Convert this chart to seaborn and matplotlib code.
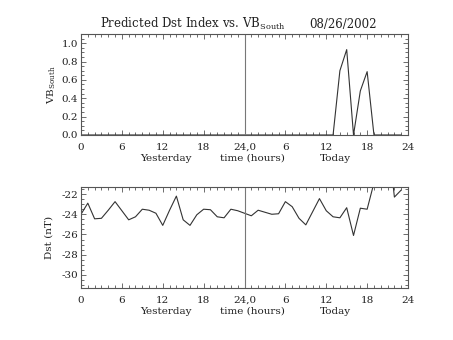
import numpy as np
import pandas as pd
import matplotlib
matplotlib.use("Agg")
import matplotlib.pyplot as plt
from matplotlib.ticker import MultipleLocator, FixedLocator, FuncFormatter
from matplotlib.transforms import blended_transform_factory
import seaborn as sns

# Hourly values over two days: hours 0-23 yesterday, 24-47 today
hours = list(range(48))

vb_south = [0.0] * 37 + [0.0, 0.70, 0.93, 0.0, 0.48, 0.69, 0.0, 0.0, 0.0, 0.0, 0.0]
vb_south = vb_south[:48]

dst = [-24.0, -22.9, -24.45, -24.4, -23.6, -22.75, -23.65, -24.55,
       -24.25, -23.5, -23.6, -23.9, -25.1, -23.6, -22.2, -24.55,
       -25.1, -24.05, -23.5, -23.55, -24.25, -24.35, -23.5, -23.65,
       -23.9, -24.15, -23.6, -23.8, -24.0, -23.95, -22.75, -23.25,
       -24.4, -25.05, -23.75, -22.45, -23.65, -24.25, -24.35, -23.35,
       -26.1, -23.4, -23.5, -20.9, -19.0, -16.0, -22.3, -21.6]

x_tick_pos = [0, 6, 12, 18, 24, 30, 36, 42, 48]
x_tick_labels = ["0", "6", "12", "18", "24,0", "6", "12", "18", "24"]
vb_ticks = [0.0, 0.2, 0.4, 0.6, 0.8, 1.0]
dst_ticks = [-30, -28, -26, -24, -22]

title_text = r"Predicted Dst Index vs. VB$_{\mathrm{South}}$"
date_text = "08/26/2002"

df = pd.DataFrame({"hour": hours, "vb": vb_south, "dst": dst})

sns.set_theme(style="white")
plt.rcParams["font.family"] = ["DejaVu Serif"]
plt.rcParams["mathtext.fontset"] = "dejavuserif"

INK = "#222222"
FRAME = "#555555"
LINE = "#333333"

fig = plt.figure(figsize=(4.53, 3.40), dpi=100)
ax1 = fig.add_axes([0.1788, 0.603, 0.7219, 0.297])
ax2 = fig.add_axes([0.1788, 0.153, 0.7219, 0.297])

sns.lineplot(data=df, x="hour", y="vb", ax=ax1, color=LINE, lw=0.8,
             estimator=None, sort=False)
sns.lineplot(data=df, x="hour", y="dst", ax=ax2, color=LINE, lw=0.8,
             estimator=None, sort=False)

ax1.set_ylim(0, 1.1)
ax2.set_ylim(-31.3, -21.3)

for ax in (ax1, ax2):
    ax.set_facecolor("white")
    ax.set_xlim(0, 48)
    ax.axvline(24, color="#777777", lw=0.8)
    ax.xaxis.set_major_locator(FixedLocator(x_tick_pos))
    ax.set_xticklabels(x_tick_labels)
    ax.xaxis.set_minor_locator(MultipleLocator(1))
    for s in ax.spines.values():
        s.set_color(FRAME)
        s.set_linewidth(0.8)
    ax.tick_params(which="both", direction="in", top=True, right=True,
                   bottom=True, left=True, color=FRAME, width=0.6,
                   labelsize=7.5, labelcolor=INK)
    ax.tick_params(which="major", length=3.5)
    ax.tick_params(which="minor", length=2)
    ax.tick_params(axis="x", which="major", pad=5.5)
    ax.tick_params(axis="y", which="major", pad=2)
    ax.set_xlabel("")
    tr = blended_transform_factory(ax.transData, ax.transAxes)
    for xpos, word in ((12.5, "Yesterday"), (25.1, "time (hours)"), (37.3, "Today")):
        ax.text(xpos, -0.257, word, transform=tr, ha="center", va="baseline",
                fontsize=7.5, color=INK)

ax1.yaxis.set_major_locator(FixedLocator(vb_ticks))
ax1.yaxis.set_major_formatter(FuncFormatter(lambda v, p: f"{v:.1f}"))
ax1.yaxis.set_minor_locator(MultipleLocator(0.05))
ax1.set_ylabel(r"VB$_{\mathrm{South}}$", fontsize=7.5, color=INK, labelpad=3)

ax2.yaxis.set_major_locator(FixedLocator(dst_ticks))
ax2.yaxis.set_major_formatter(FuncFormatter(lambda v, p: f"{int(round(v))}".replace("\u2212", "-")))
ax2.yaxis.set_minor_locator(MultipleLocator(0.5))
ax2.set_ylabel("Dst (nT)", fontsize=7.5, color=INK, labelpad=6)

fig.text(100 / 453, 1 - 28 / 340, title_text, ha="left", va="baseline",
         fontsize=8.5, color=INK)
fig.text(309 / 453, 1 - 28 / 340, date_text, ha="left", va="baseline",
         fontsize=8.5, color=INK)

fig.savefig("out.png", dpi=100, facecolor="white")
